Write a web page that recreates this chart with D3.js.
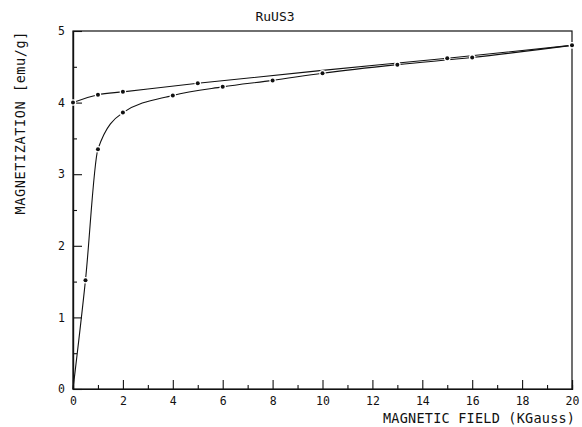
<!DOCTYPE html>
<html>
<head>
<meta charset="utf-8">
<script src="https://cdn.jsdelivr.net/npm/d3@7"></script>
<style>
  html, body { margin: 0; padding: 0; background: #fff; }
  svg { display: block; }
  text { font-family: "DejaVu Sans Mono", monospace; fill: #111; }
</style>
</head>
<body>
<svg id="chart" width="582" height="427"></svg>
<script>
// ---- data ----
const title = "RuUS3";
const xLabel = "MAGNETIC FIELD (KGauss)";
const yLabel = "MAGNETIZATION [emu/g]";
const xMajorTicks = [0, 2, 4, 6, 8, 10, 12, 14, 16, 18, 20];
const xMinorTicks = [1, 3, 5, 7, 9, 11, 13, 15, 17, 19];
const yMajorTicks = [0, 1, 2, 3, 4, 5];
const yMinorTicks = [0.5, 1.5, 2.5, 3.5, 4.5];
// virgin (increasing field) curve
const virginField = [0, 0.5, 1, 2, 4, 6, 8, 10, 13, 16, 20];
const virginMag   = [0, 1.52, 3.35, 3.86, 4.10, 4.22, 4.31, 4.41, 4.53, 4.63, 4.80];
// decreasing field curve
const returnField = [0, 1, 2, 5, 10, 15, 20];
const returnMag   = [4.00, 4.11, 4.15, 4.27, 4.45, 4.62, 4.80];
const returnMarked = [true, true, true, true, false, true, true];

// ---- layout ----
const svg = d3.select("#chart");
const mLeft = 73, mRight = 572, mTop = 31, mBottom = 389;
const x = d3.scaleLinear().domain([0, 20]).range([mLeft, mRight]);
const y = d3.scaleLinear().domain([0, 5]).range([mBottom, mTop]);

const ink = "#111";

// frame
svg.append("rect")
  .attr("x", mLeft).attr("y", mTop)
  .attr("width", mRight - mLeft).attr("height", mBottom - mTop)
  .attr("fill", "none").attr("stroke", ink).attr("stroke-width", 1.2);

// x axis
const gx = svg.append("g").attr("transform", `translate(0,${mBottom})`);
gx.call(d3.axisBottom(x).tickValues(xMajorTicks).tickSize(-9).tickPadding(8)
  .tickFormat(d3.format("d")));
const gxm = svg.append("g").attr("transform", `translate(0,${mBottom})`);
gxm.call(d3.axisBottom(x).tickValues(xMinorTicks).tickSize(-4).tickFormat(""));

// y axis
const gy = svg.append("g").attr("transform", `translate(${mLeft},0)`);
gy.call(d3.axisLeft(y).tickValues(yMajorTicks).tickSize(-9).tickPadding(8)
  .tickFormat(d3.format("d")));
const gym = svg.append("g").attr("transform", `translate(${mLeft},0)`);
gym.call(d3.axisLeft(y).tickValues(yMinorTicks).tickSize(-4).tickFormat(""));

svg.selectAll(".domain").attr("stroke", ink).attr("stroke-width", 1.2);
svg.selectAll(".tick line").attr("stroke", ink).attr("stroke-width", 1.1);
svg.selectAll(".tick text").attr("font-size", 11.5)
  .attr("font-family", "DejaVu Sans Mono, monospace").attr("fill", ink);

// curves
const line = d3.line()
  .x(d => x(d[0])).y(d => y(d[1]))
  .curve(d3.curveMonotoneX);

const virgin = virginField.map((f, i) => [f, virginMag[i]]);
const ret = returnField.map((f, i) => [f, returnMag[i]]);

[virgin, ret].forEach(pts => {
  svg.append("path").datum(pts)
    .attr("d", line)
    .attr("fill", "none").attr("stroke", ink).attr("stroke-width", 1.1);
});

function markers(pts, flags) {
  svg.append("g").selectAll("circle")
    .data(pts.filter((p, i) => !flags || flags[i]))
    .join("circle")
    .attr("cx", d => x(d[0])).attr("cy", d => y(d[1]))
    .attr("r", 2)
    .attr("fill", ink)
    .attr("stroke", "#fff").attr("stroke-width", 2.5)
    .attr("paint-order", "stroke");
}
markers(virgin.slice(1));
markers(ret, returnMarked);

// title
svg.append("text")
  .attr("x", 275).attr("y", 21)
  .attr("text-anchor", "middle")
  .attr("font-size", 13)
  .attr("font-family", "DejaVu Sans, sans-serif")
  .text(title);

// x label
svg.append("text")
  .attr("x", 575).attr("y", 423)
  .attr("text-anchor", "end")
  .attr("font-size", 13.5)
  .attr("textLength", 192).attr("lengthAdjust", "spacing")
  .text(xLabel);

// y label
svg.append("text")
  .attr("transform", "translate(25,123) rotate(-90)")
  .attr("text-anchor", "middle")
  .attr("font-size", 13.5)
  .attr("textLength", 183).attr("lengthAdjust", "spacing")
  .text(yLabel);
</script>
</body>
</html>
